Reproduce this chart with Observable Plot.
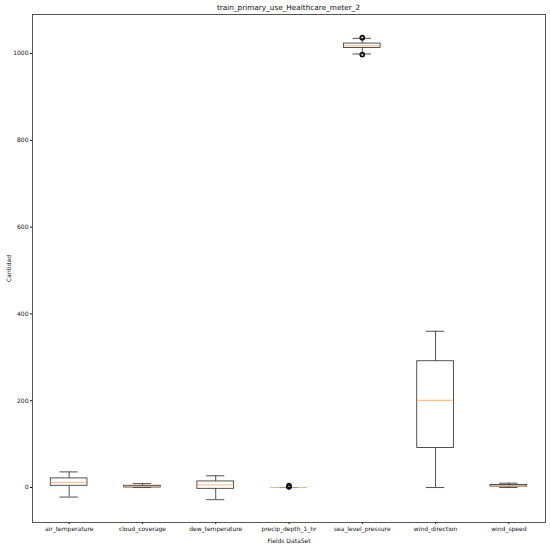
<!DOCTYPE html>
<html><head><meta charset="utf-8">
<script src="https://cdn.jsdelivr.net/npm/d3@7"></script>
<script src="https://cdn.jsdelivr.net/npm/@observablehq/plot@0.6"></script>
<style>
body{margin:0;background:#fff;}
#wrap{position:relative;width:550px;height:546px;font-family:"DejaVu Sans",sans-serif;}
#title{position:absolute;left:32px;width:513px;top:3px;text-align:center;font-size:7.3px;line-height:9px;color:#111;}
#chart{position:absolute;left:0;top:0;}
</style></head><body>
<div id="wrap"><div id="chart"></div><div id="title">train_primary_use_Healthcare_meter_2</div></div>
<script>
const fields = ["air_temperature","cloud_coverage","dew_temperature","precip_depth_1_hr","sea_level_pressure","wind_direction","wind_speed"];
const whislo = [-22, 0, -28, 0, 999, 0, 0];
const q1     = [4, 0, -3, 0, 1013, 91, 2.1];
const med    = [12, 2, 6, 0, 1018, 201, 3.6];
const q3     = [21, 4, 14, 0, 1023, 291, 5.7];
const whishi = [36, 9, 27, 0, 1035, 360, 10];
const flierField = ["precip_depth_1_hr","precip_depth_1_hr","precip_depth_1_hr","precip_depth_1_hr","sea_level_pressure","sea_level_pressure","sea_level_pressure","sea_level_pressure"];
const flierValue = [1, 2, 3, 5, 997, 998, 1036, 1037];
const yTicks = [0, 200, 400, 600, 800, 1000];

const rows = fields.map((f, i) => ({field: f, pos: i + 1, whislo: whislo[i], q1: q1[i], med: med[i], q3: q3[i], whishi: whishi[i]}));
const fliers = flierField.map((f, i) => ({pos: fields.indexOf(f) + 1, value: flierValue[i]}));
const ink = "#333";
const lw = 0.85;

const chart = Plot.plot({
  width: 550, height: 546,
  marginLeft: 32, marginRight: 5, marginTop: 14, marginBottom: 24,
  style: {fontFamily: "DejaVu Sans, sans-serif", fontSize: "6px", color: "#111", background: "white"},
  x: {type: "linear", domain: [0.5, 7.5], ticks: rows.map(d => d.pos), tickFormat: p => fields[p - 1],
      tickSize: 2, tickPadding: 2, label: "Fields DataSet", labelAnchor: "center", labelArrow: "none", labelOffset: 20},
  y: {domain: [-80.6, 1090], ticks: yTicks, tickFormat: d => String(d), tickSize: 2, tickPadding: 2,
      label: "Cantidad", labelAnchor: "center", labelArrow: "none", labelOffset: 26},
  marks: [
    Plot.frame({stroke: "#444", strokeWidth: 0.9}),
    Plot.ruleX(rows, {x: "pos", y1: "whislo", y2: "q1", stroke: ink, strokeWidth: lw}),
    Plot.ruleX(rows, {x: "pos", y1: "q3", y2: "whishi", stroke: ink, strokeWidth: lw}),
    Plot.ruleY(rows, {y: "whislo", x1: d => d.pos - 0.125, x2: d => d.pos + 0.125, stroke: ink, strokeWidth: lw}),
    Plot.ruleY(rows, {y: "whishi", x1: d => d.pos - 0.125, x2: d => d.pos + 0.125, stroke: ink, strokeWidth: lw}),
    Plot.rect(rows, {x1: d => d.pos - 0.25, x2: d => d.pos + 0.25, y1: "q1", y2: "q3", fill: "none", stroke: ink, strokeWidth: lw}),
    Plot.ruleY(rows, {y: "med", x1: d => d.pos - 0.25, x2: d => d.pos + 0.25, stroke: "#f5a55c", strokeWidth: lw}),
    Plot.dot(fliers, {x: "pos", y: "value", r: 2, fill: "none", stroke: "#111", strokeWidth: 1.3})
  ]
});
document.getElementById("chart").appendChild(chart);
</script>
</body></html>
